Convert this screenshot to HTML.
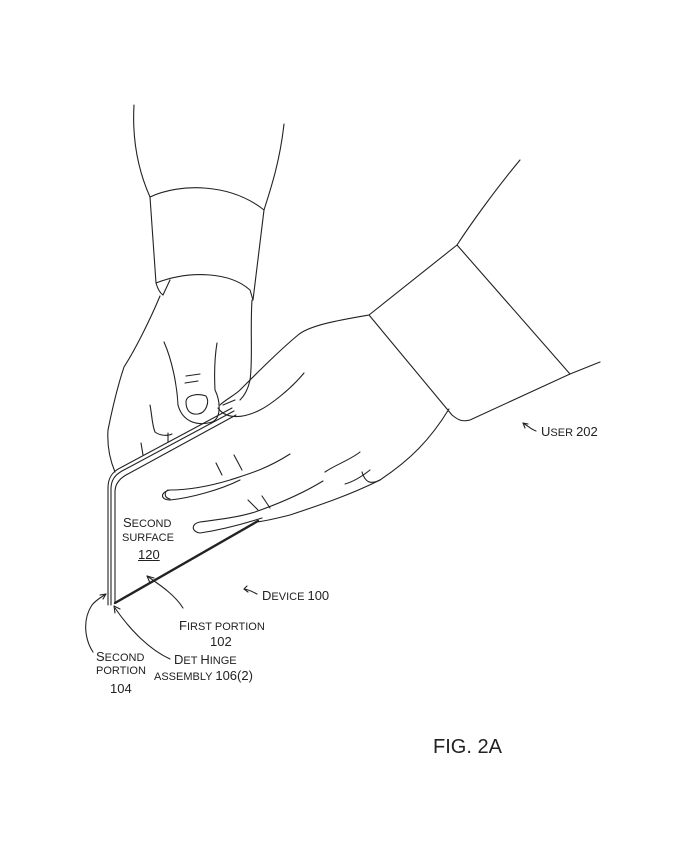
<!DOCTYPE html>
<html><head><style>
body{margin:0;background:#fff;width:700px;height:843px;overflow:hidden;position:relative;font-family:"Liberation Sans",sans-serif;color:#222}
svg{position:absolute;left:0;top:0}
.t{position:absolute;font-size:11px;white-space:nowrap;line-height:1}
.t b{font-weight:normal;font-size:13px}
</style></head><body>
<svg width="700" height="843" fill="none" stroke="#222" stroke-width="1.1" stroke-linecap="round" stroke-linejoin="round">
<!-- left arm -->
<path d="M134,105 C132,140 138,170 150,197"/>
<path d="M284,124 C280,160 272,185 264,210"/>
<path d="M150,197 C180,183 230,183 264,210"/>
<path d="M150,197 L156,283 M264,210 L253,300"/>
<path d="M156,283 C190,270 230,272 250,290 L253,300"/>
<path d="M156,283 C158,290 160,293 163,295 L170,280"/>
<!-- left hand -->
<path d="M160,296 C150,320 135,350 124,367 C118,385 112,410 108,430 C107,445 110,460 115,472"/>
<path d="M252,300 C250,330 253,360 250,380 C248,390 244,396 240,400"/>
<path d="M164,342 C172,360 177,385 178,405 C182,420 195,427 212,422 C222,418 220,400 215,390 C214,370 215,355 217,343"/>
<path d="M186,402 C186,395 198,393 206,396 C210,402 206,413 198,414 C190,415 186,410 186,402Z"/>
<path d="M186,376 L200,374 M185,383 L198,381"/>
<path d="M150,405 C152,415 152,425 155,432 C160,436 168,436 172,434 M168,433 L168,442 M141,443 L143,455"/>
<!-- right arm -->
<path d="M520,160 C495,190 470,225 457,245"/>
<path d="M457,245 L369,315"/>
<path d="M457,245 L570,374"/>
<path d="M369,315 L452,415 C458,420 462,422 470,420 L570,374 L600,362"/>
<!-- right hand back -->
<path d="M369,315 C340,320 310,325 298,335 C280,350 260,370 240,390 C235,395 225,400 220,405"/>
<path d="M449,409 C430,440 410,460 380,480 C370,485 365,482 362,472"/>
<path d="M380,480 C350,495 320,505 290,515 C270,520 258,522 255,522"/>
<!-- thumb -->
<path d="M304,373 C290,390 270,405 260,410 C240,420 225,418 218,408 M223,405 L235,400"/>
<!-- fingers -->
<path d="M290,454 C265,470 245,475 230,480 C210,486 190,490 170,490 C160,492 160,500 170,500 C190,498 220,490 240,480"/>
<path d="M168,490 C164,492 164,498 170,499"/>
<path d="M323,481 C300,495 275,505 255,512 C235,518 215,520 200,522 C190,524 192,532 200,533 C220,530 240,525 262,518"/>
<path d="M216,463 L222,475 M234,455 L242,470"/>
<path d="M248,500 L258,510 M262,496 L270,508"/>
<path d="M360,452 C350,460 335,465 325,472"/>
<path d="M370,470 C360,478 352,482 345,484"/>
<!-- device -->
<path d="M108,605 L108,488 C108,478 112,472 120,468 L232,408"/>
<path d="M111,605 L111,489 C111,480 115,475 122,471 L234,411"/>
<path d="M115,603 L115,492 C115,484 119,479 126,475 L236,415"/>
<path d="M115,603 L258,521" stroke-width="2.4"/>
<!-- leaders -->
<path d="M183,608 C175,595 160,585 147,576"/><path d="M147,576 l3,7 M147,576 l7,2"/>
<path d="M257,594 C253,592 250,590 244,589"/><path d="M244,589 l3,-3 M244,589 l4,3"/>
<path d="M536,431 C532,430 528,426 523,423"/><path d="M523,423 l2,5 M523,423 l5,1"/>
<path d="M93,652 C85,640 82,620 92,605 C96,600 100,598 106,594"/><path d="M106,594 l-6,1 M106,594 l-3,5"/>
<path d="M170,659 C150,650 130,630 115,608"/><path d="M114,606 l1,7 M114,606 l6,3"/>
</svg>
<div class="t" style="left:123px;top:516px"><b>S</b>ECOND</div>
<div class="t" style="left:122px;top:533px">SURFACE</div>
<div class="t" style="left:138px;top:548px;font-size:13px;text-decoration:underline">120</div>
<div class="t" style="left:262px;top:589px"><b>D</b>EVICE <b>100</b></div>
<div class="t" style="left:179px;top:619px"><b>F</b>IRST PORTION</div>
<div class="t" style="left:210px;top:635px;font-size:13px">102</div>
<div class="t" style="left:96px;top:650px"><b>S</b>ECOND</div>
<div class="t" style="left:96px;top:666px">PORTION</div>
<div class="t" style="left:110px;top:682px;font-size:13px">104</div>
<div class="t" style="left:174px;top:653px"><b>D</b>ET <b>H</b>INGE</div>
<div class="t" style="left:154px;top:669px">ASSEMBLY <b>106(2)</b></div>
<div class="t" style="left:541px;top:425px"><b>U</b>SER <b>202</b></div>
<div class="t" style="left:433px;top:737px;font-size:20px">FIG. 2A</div>
</body></html>
